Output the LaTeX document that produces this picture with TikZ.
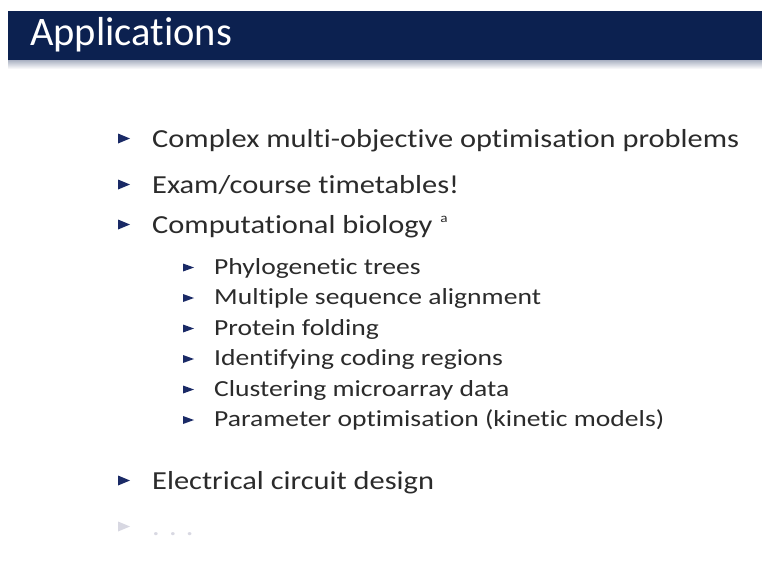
\documentclass[tikz,border=0pt]{standalone}
\usepackage{fontspec}
\setmainfont[Ligatures=NoCommon]{Carlito}
\newfontfamily\bodyfont[FakeStretch=1.17,Ligatures=NoCommon]{Carlito}
\newfontfamily\subfont[FakeStretch=1.2,Ligatures=NoCommon]{Carlito}
\definecolor{barblue}{HTML}{0C2150}
\definecolor{bulletblue}{HTML}{1A2A66}
\definecolor{bodytext}{HTML}{2B2B2B}
\definecolor{fadedtext}{HTML}{D8D8E2}
\begin{document}
\begin{tikzpicture}[x=1pt,y=-1pt,
  itemtext/.style={anchor=base west,inner sep=0pt,text=bodytext,font=\bodyfont\fontsize{26}{30}\selectfont},
  subtext/.style={anchor=base west,inner sep=0pt,text=bodytext,font=\subfont\fontsize{23}{27}\selectfont},
  mainbullet/.style={fill=bulletblue},
  subbullet/.style={fill=bulletblue}]
  \useasboundingbox (0,0) rectangle (762,570);
  \fill[white] (0,0) rectangle (762,570);
  % title bar with soft shadow underneath
  \shade[top color=barblue!35, bottom color=white] (8,60) rectangle (762,69);
  \fill[barblue] (8,11) rectangle (762,60);
  \node[anchor=base west,inner sep=0pt,text=white,font=\fontsize{40.5}{45}\selectfont] (title) at (30,45) {Applications};

  % first level items
  \node[itemtext] (i1) at (152,147) {Complex multi-objective optimisation problems};
  \node[itemtext] (i2) at (152,193) {Exam/course timetables!};
  \node[itemtext] (i3) at (152,233) {Computational biology\hspace{0.3em}\raisebox{0.42em}{\fontsize{13}{15}\selectfont a}};
  \node[itemtext] (i4) at (152,489) {Electrical circuit design};
  \node[itemtext,text=fadedtext] (i5) at (152,535) {. . .};

  % second level items
  \node[subtext] (s1) at (214,274) {Phylogenetic trees};
  \node[subtext] (s2) at (214,304.5) {Multiple sequence alignment};
  \node[subtext] (s3) at (214,335) {Protein folding};
  \node[subtext] (s4) at (214,365.5) {Identifying coding regions};
  \node[subtext] (s5) at (214,396) {Clustering microarray data};
  \node[subtext] (s6) at (214,426.5) {Parameter optimisation (kinetic models)};

  % triangular bullets
  \foreach \n in {i1,i2,i3,i4} {
    \fill[mainbullet] ([xshift=-34pt,yshift=3.5pt]\n.base west) -- ++(0,-10) -- ++(12,5) -- cycle;
  }
  \fill[fadedtext] ([xshift=-34pt,yshift=3.5pt]i5.base west) -- ++(0,-10) -- ++(12,5) -- cycle;
  \foreach \n in {s1,s2,s3,s4,s5,s6} {
    \fill[subbullet] ([xshift=-31pt,yshift=2.5pt]\n.base west) -- ++(0,-8) -- ++(11,4) -- cycle;
  }
\end{tikzpicture}
\end{document}
